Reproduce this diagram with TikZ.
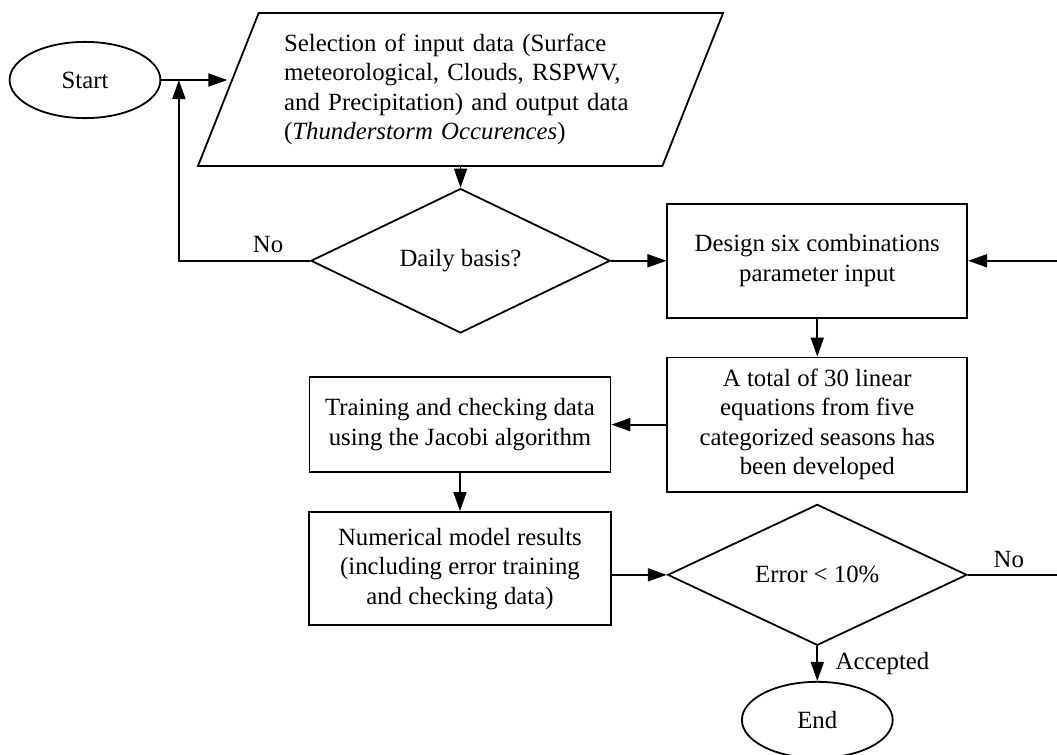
\documentclass[tikz,border=0pt]{standalone}
\usepackage{fontspec}
\setmainfont{Liberation Serif}
\usetikzlibrary{shapes.geometric, arrows.meta}

\begin{document}
\begin{tikzpicture}[font=\fontsize{12.4pt}{14.75pt}\selectfont, line width=0.9pt, >={Triangle[length=9.5pt, width=6.5pt]},
  block/.style={rectangle, draw, minimum width=52.7mm, align=center},
  decision/.style={diamond, draw, minimum width=52.6mm, inner sep=0pt},
  terminal/.style={ellipse, draw, minimum width=26.5mm, minimum height=13.4mm},
  iobox/.style={trapezium, trapezium left angle=64, trapezium right angle=116, trapezium stretches body, draw, align=left}]

    \useasboundingbox (-14.94mm,14.06mm) rectangle (170.83mm,-118.46mm);

    \node[terminal] (start) {Start};
    \node[coordinate, right of=start, node distance=16.5mm] (loop) {};
    \node[iobox, right of=start, node distance=66mm, yshift=-1.67mm, minimum width=92.3mm, minimum height=26.9mm, text width=62mm] (select) {Selection of input data (Surface\\ meteorological, Clouds, RSPWV,\\ and Precipitation) and output data\\ (\textit{Thunderstorm Occurences})};
    \node[decision, below of=select, node distance=30.1mm, minimum height=20mm] (daily) {Daily basis?};
    \node[block, right of=daily, node distance=62.7mm, minimum height=20mm] (design) {Design six combinations\\ parameter input};
    \node[block, below of=design, node distance=28.8mm, minimum height=23.6mm] (total) {A total of 30 linear\\ equations from five\\ categorized seasons has\\ been developed};
    \node[block, left of=total, node distance=62.8mm, minimum width=52.9mm, minimum height=16.7mm] (train) {Training and checking data\\ using the Jacobi algorithm};
    \node[block, below of=train, node distance=25.3mm, minimum width=53.1mm, minimum height=19.9mm] (num) {Numerical model results\\ (including error training\\ and checking data)};
    \node[decision, below of=total, node distance=26.4mm, minimum height=22.5mm] (err) {Error < 10\%};
    \node[terminal, below of=err, node distance=25.5mm] (stop) {End};

    \draw[->] (start.east) -- (start.east -| select.west);
    \draw[->] (daily.north |- select.south) -- (daily.north);
    \draw[->] (daily.west) -| node[pos=0.16, above] {No} (loop);
    \draw[->] (daily.east) -- (design.west);
    \draw[->] (design.south) -- (total.north);
    \draw[->] (total.west) -- (total.west -| train.east);
    \draw[->] (train.south) -- (num.north);
    \draw[->] (num.east |- err.west) -- (err.west);
    \draw[->] (err.south) -- node[right, xshift=1.9mm] {Accepted} (stop.north);
    \draw[->] (err.east) -- node[pos=0.4, above] {No} ++(18mm,0) |- (design.east);
  \end{tikzpicture}
\end{document}
